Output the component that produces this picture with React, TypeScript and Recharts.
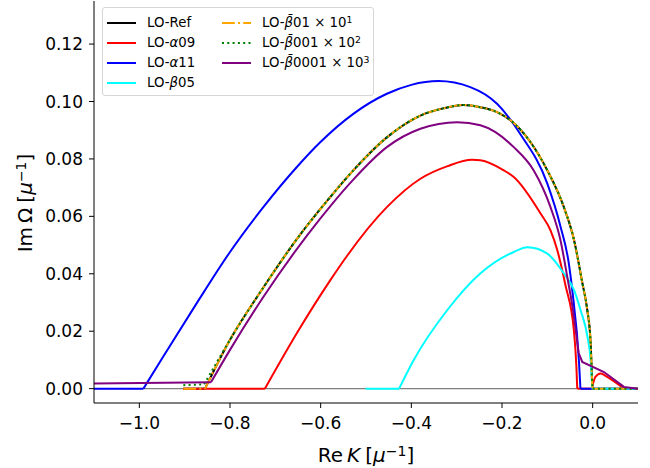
import React from "react";
import {
  LineChart,
  Line,
  XAxis,
  YAxis,
  ReferenceLine,
} from "recharts";

// LO-Ref (also carries LO-beta01 x 10^1, which lies on top of it)
const refX = [-0.903, -0.855, -0.8, -0.7265, -0.653, -0.601, -0.579, -0.528, -0.454, -0.38, -0.33, -0.285, -0.248, -0.211, -0.174, -0.137, -0.1, -0.0635, -0.041, -0.023, -0.012, -0.0045, -0.001, 0.0, 0.1];
const refY = [0, 0, 0.017, 0.0352, 0.052, 0.0625, 0.0667, 0.076, 0.0875, 0.0951, 0.0976, 0.0988, 0.098, 0.0963, 0.0925, 0.0858, 0.076, 0.0632, 0.0517, 0.037, 0.0275, 0.016, 0.002, 0, 0];

// LO-beta001 x 10^2
const beta001X = [-0.903, -0.857, -0.8, -0.7265, -0.653, -0.601, -0.579, -0.528, -0.454, -0.38, -0.33, -0.285, -0.248, -0.211, -0.174, -0.137, -0.1, -0.0635, -0.041, -0.023, -0.012, -0.0045, -0.001, 0.0, 0.1];
const beta001Y = [0.0012, 0.0015, 0.017, 0.0352, 0.052, 0.0625, 0.0667, 0.076, 0.0875, 0.0951, 0.0976, 0.0988, 0.098, 0.0963, 0.0925, 0.0858, 0.076, 0.0632, 0.0517, 0.037, 0.0275, 0.016, 0.002, 0, 0];

// LO-alpha09
const alpha09X = [-0.903, -0.723, -0.653, -0.579, -0.542, -0.454, -0.38, -0.32, -0.266, -0.2476, -0.196, -0.174, -0.115, -0.093, -0.078, -0.06, -0.0414, -0.036, -0.034, -0.002, 0.006, 0.0175, 0.032, 0.069, 0.1];
const alpha09Y = [0, 0, 0.0192, 0.0377, 0.0462, 0.0632, 0.0731, 0.0775, 0.0797, 0.0795, 0.076, 0.0737, 0.061, 0.0551, 0.0482, 0.036, 0.0203, 0.008, 0, 0, 0.0041, 0.0053, 0.0041, 0, 0];

// LO-alpha11
const alpha11X = [-1.1, -0.991, -0.9475, -0.874, -0.8, -0.7265, -0.653, -0.601, -0.528, -0.454, -0.4, -0.34, -0.27, -0.211, -0.159, -0.1, -0.071, -0.0525, -0.045, -0.03, -0.027, 0.1];
const alpha11Y = [0, 0, 0.0111, 0.0296, 0.0476, 0.0632, 0.0771, 0.0858, 0.0957, 0.1027, 0.1058, 0.1071, 0.105, 0.0992, 0.0885, 0.0714, 0.0565, 0.0435, 0.0343, 0.0089, 0, 0];

// LO-beta05
const beta05X = [-0.501, -0.427, -0.395, -0.321, -0.248, -0.174, -0.144, -0.1, -0.0635, -0.041, -0.027, -0.012, -0.0045, -0.0008, 0.1];
const beta05Y = [0, 0, 0.0099, 0.0273, 0.0401, 0.0476, 0.0492, 0.047, 0.0401, 0.0343, 0.0275, 0.0185, 0.0099, 0, 0];

// LO-beta0001 x 10^3
const beta0001X = [-1.1, -0.842, -0.8, -0.7265, -0.653, -0.601, -0.579, -0.528, -0.454, -0.38, -0.299, -0.2476, -0.174, -0.13, -0.093, -0.071, -0.055, -0.045, -0.038, -0.031, -0.023, 0.025, 0.069, 0.1];
const beta0001Y = [0.0018, 0.0022, 0.0135, 0.0319, 0.0485, 0.0592, 0.0635, 0.0728, 0.0841, 0.0905, 0.0928, 0.0917, 0.0841, 0.076, 0.0632, 0.0517, 0.038, 0.029, 0.021, 0.0125, 0.0093, 0.0058, 0.0006, 0];

const xTicks = [-1.0, -0.8, -0.6, -0.4, -0.2, 0.0];
const yTicks = [0, 0.02, 0.04, 0.06, 0.08, 0.1, 0.12];

const FONT = "'DejaVu Sans', sans-serif";

const pts = (xs: number[], ys: number[]) => xs.map((x, i) => ({ x, y: ys[i] }));

// curved: index ranges drawn smooth; everything else is drawn as straight pieces
const series = [
  { key: "ref", data: pts(refX, refY), curved: [[1, 23]], color: "#000000", dash: undefined, label: <>LO-Ref</> },
  { key: "a09", data: pts(alpha09X, alpha09Y), curved: [[1, 18], [19, 23]], color: "#ff0000", dash: undefined, label: <>LO-<i>α</i>09</> },
  { key: "a11", data: pts(alpha11X, alpha11Y), curved: [[1, 20]], color: "#0000ff", dash: undefined, label: <>LO-<i>α</i>11</> },
  { key: "b05", data: pts(beta05X, beta05Y), curved: [[1, 13]], color: "#00ffff", dash: undefined, label: <>LO-<i>β</i>05</> },
  { key: "b01", data: pts(refX, refY), curved: [[1, 23]], color: "#ffa500", dash: "12.8 3.2 2 3.2", label: <>LO-<i>β&#772;</i>01 × 10<sup>1</sup></> },
  { key: "b001", data: pts(beta001X, beta001Y), curved: [[1, 23]], color: "#008000", dash: "2 3.3", label: <>LO-<i>β&#772;</i>001 × 10<sup>2</sup></> },
  { key: "b0001", data: pts(beta0001X, beta0001Y), curved: [[1, 19]], color: "#800080", dash: undefined, label: <>LO-<i>β&#772;</i>0001 × 10<sup>3</sup></> },
];

type Seg = { pts: { x: number; y: number }[]; smooth: boolean };

function splitSegments(data: { x: number; y: number }[], curved: number[][]): Seg[] {
  const segs: Seg[] = [];
  let cur = 0;
  for (const [a, b] of curved) {
    if (a > cur) segs.push({ pts: data.slice(cur, a + 1), smooth: false });
    segs.push({ pts: data.slice(a, b + 1), smooth: true });
    cur = b;
  }
  if (cur < data.length - 1) segs.push({ pts: data.slice(cur), smooth: false });
  return segs;
}

const fmtX = (v: number) => v.toFixed(1).replace("-", "\u2212");
const fmtY = (v: number) => v.toFixed(2);

function LegendBox() {
  const cols = [series.slice(0, 4), series.slice(4)];
  return (
    <div
      style={{
        position: "absolute",
        left: 102,
        top: 7,
        width: 270,
        height: 87,
        border: "1px solid #d6d6d6",
        borderRadius: 3,
        background: "rgba(255,255,255,0.8)",
        fontFamily: FONT,
        fontSize: 13.3,
      }}
    >
      {cols.map((col, ci) =>
        col.map((s, ri) => (
          <div
            key={s.key}
            style={{
              position: "absolute",
              left: ci === 0 ? 4 : 119,
              top: 5 + ri * 20,
              height: 20,
              display: "flex",
              alignItems: "center",
              whiteSpace: "nowrap",
            }}
          >
            <svg width={29} height={6} style={{ marginRight: 11 }}>
              <line x1={0} y1={3} x2={29} y2={3} stroke={s.color} strokeWidth={2} strokeDasharray={s.dash} />
            </svg>
            <span style={{ lineHeight: "20px" }}>{s.label}</span>
          </div>
        ))
      )}
    </div>
  );
}

export default function App() {
  return (
    <div style={{ position: "relative", width: 650, height: 468, background: "#fff" }}>
      <style>{`body{margin:0} sup{font-size:70%;line-height:0;vertical-align:0.45em}`}</style>
      <LineChart width={650} height={468} margin={{ top: 1, right: 12, bottom: 0, left: 0 }}>
        <XAxis
          dataKey="x"
          type="number"
          domain={[-1.1, 0.1]}
          allowDataOverflow
          ticks={xTicks}
          tickFormatter={fmtX}
          height={65}
          tickSize={5}
          tickMargin={9}
          axisLine={{ stroke: "#000", strokeWidth: 1 }}
          tickLine={{ stroke: "#000", strokeWidth: 1 }}
          tick={{ fill: "#000", fontSize: 17, fontFamily: FONT }}
        />
        <XAxis
          xAxisId="top"
          orientation="top"
          dataKey="x"
          type="number"
          domain={[-1.1, 0.1]}
          height={0}
          tick={false}
          tickLine={false}
          axisLine={{ stroke: "#000", strokeWidth: 1 }}
        />
        <YAxis
          type="number"
          domain={[-0.005, 0.135]}
          allowDataOverflow
          ticks={yTicks}
          tickFormatter={fmtY}
          width={94}
          tickSize={5}
          tickMargin={6}
          axisLine={{ stroke: "#000", strokeWidth: 1 }}
          tickLine={{ stroke: "#000", strokeWidth: 1 }}
          tick={{ fill: "#000", fontSize: 17, fontFamily: FONT }}
        />
        <YAxis
          yAxisId="right"
          orientation="right"
          type="number"
          domain={[-0.005, 0.135]}
          width={0}
          tick={false}
          tickLine={false}
          axisLine={{ stroke: "#000", strokeWidth: 1 }}
        />
        <ReferenceLine y={0} stroke="#808080" strokeWidth={1.2} />
        {series.flatMap((s) =>
          splitSegments(s.data, s.curved).map((seg, i) => (
            <Line
              key={`${s.key}-${i}`}
              data={seg.pts}
              dataKey="y"
              type={seg.smooth ? "monotone" : "linear"}
              stroke={s.color}
              strokeWidth={2}
              strokeDasharray={s.dash}
              dot={false}
              activeDot={false}
              isAnimationActive={false}
            />
          ))
        )}
      </LineChart>
      <LegendBox />
      <div
        style={{
          position: "absolute",
          left: 366,
          top: 455,
          transform: "translate(-50%, -50%)",
          fontFamily: FONT,
          fontSize: 20,
          whiteSpace: "nowrap",
        }}
      >
        Re<span style={{ marginLeft: 4 }}><i>K</i></span>
        <span style={{ marginLeft: 5 }}>[<i>μ</i><sup>−1</sup>]</span>
      </div>
      <div
        style={{
          position: "absolute",
          left: 25,
          top: 203,
          transform: "translate(-50%, -50%) rotate(-90deg)",
          fontFamily: FONT,
          fontSize: 20,
          whiteSpace: "nowrap",
        }}
      >
        Im<span style={{ marginLeft: 4 }}>Ω</span>
        <span style={{ marginLeft: 5 }}>[<i>μ</i><sup>−1</sup>]</span>
      </div>
    </div>
  );
}
